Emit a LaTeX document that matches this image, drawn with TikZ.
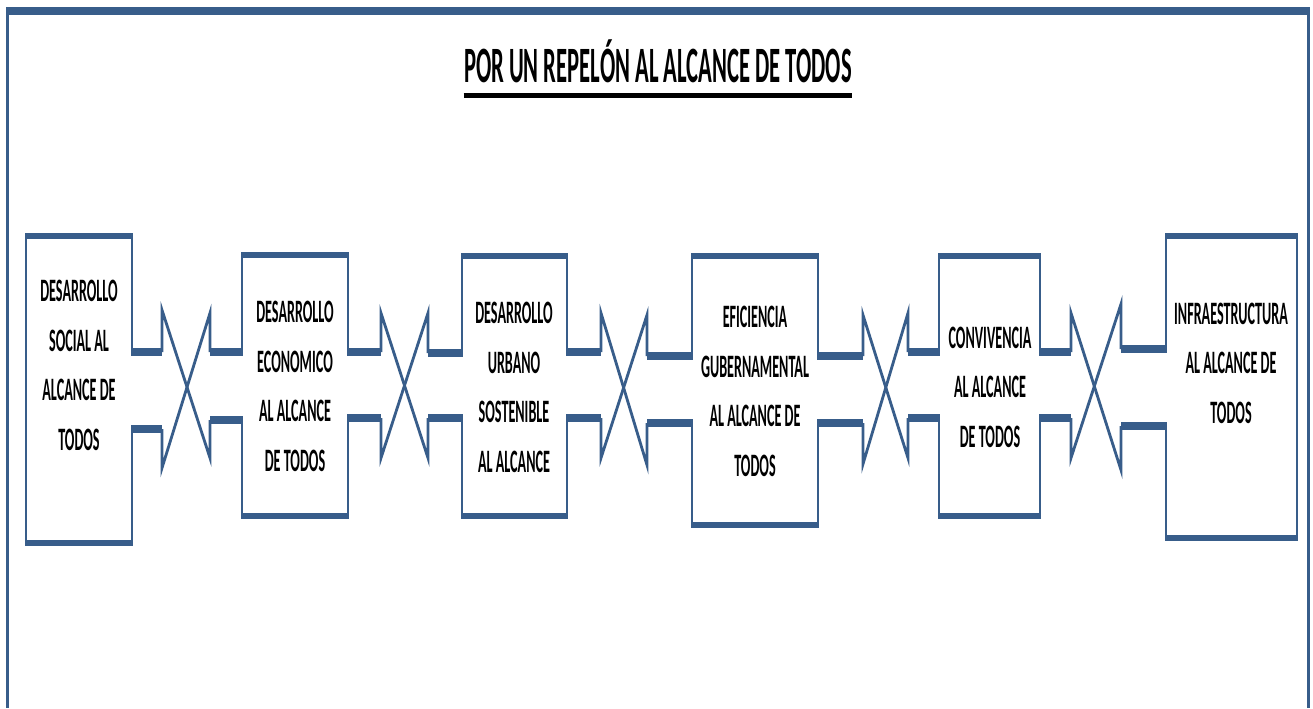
\documentclass[tikz,border=0pt]{standalone}
\usepackage{fontspec}
\setmainfont{Carlito}
\usepackage{graphicx}
\definecolor{outline}{HTML}{385D8A}
\tikzset{frameline/.style = {draw=outline, line width=1.7pt},
         thickbar/.style = {draw=outline, line width=3.6pt},
         stubbar/.style = {draw=outline, line width=4.2pt},
         thinline/.style = {draw=outline, line width=1.6pt, line join=miter},
         boxtext/.style = {inner sep=0pt, font=\bfseries\fontsize{18.6}{28.2}\selectfont},
         titletext/.style = {inner sep=0pt, font=\bfseries\fontsize{29}{34}\selectfont}}
\newcommand{\narrowtext}[1]{\scalebox{0.433}[1]{\begin{tabular}{@{}c@{}}#1\end{tabular}}}

\begin{document}
\begin{tikzpicture}[x=0.02cm,y=-0.02cm]
        \useasboundingbox (0,0) rectangle (1313,708);
        \draw[thickbar, line width=4pt](6,11)--(1310,11);
        \draw[frameline](7.5,9)--(7.5,708);
        \draw[frameline](1308.5,9)--(1308.5,708);

        \node[titletext, anchor=base] (title) at (658,82) {\scalebox{0.444}[1]{POR UN REPELÓN AL ALCANCE DE TODOS}};
        \draw[line width=2.9pt]([yshift=-7.7pt]title.base west)--([yshift=-7.7pt]title.base east);

        % boxes
        \draw[thinline](132,352)--(132,236)--(26,236)--(26,543)--(132,543)--(132,429);
        \draw[thickbar](25,236)--(133,236);
        \draw[thickbar](25,543)--(133,543);

        \draw[thinline](242,352)--(242,255)--(348,255)--(348,352);
        \draw[thinline](242,420)--(242,516)--(348,516)--(348,418);
        \draw[thickbar](241,255)--(349,255);
        \draw[thickbar](241,516)--(349,516);

        \draw[thinline](462,353)--(462,256)--(567,256)--(567,352);
        \draw[thinline](462,418)--(462,516)--(567,516)--(567,418);
        \draw[thickbar](461,256)--(568,256);
        \draw[thickbar](461,516)--(568,516);

        \draw[thinline](692,356)--(692,256)--(818,256)--(818,356);
        \draw[thinline](692,423)--(692,525)--(818,525)--(818,423);
        \draw[thickbar](691,256)--(819,256);
        \draw[thickbar](691,525)--(819,525);

        \draw[thinline](939,352)--(939,256)--(1040,256)--(1040,352);
        \draw[thinline](939,418)--(939,516)--(1040,516)--(1040,418);
        \draw[thickbar](938,256)--(1041,256);
        \draw[thickbar](938,516)--(1041,516);

        \draw[thinline](1166,349)--(1166,236)--(1297,236)--(1297,538)--(1166,538)--(1166,426);
        \draw[thickbar](1165,236)--(1298,236);
        \draw[thickbar](1165,538)--(1298,538);

        % crossings
        \draw[stubbar](131,352)--(162,352);
        \draw[stubbar](131,429)--(162,429);
        \draw[stubbar](210,352)--(243,352);
        \draw[stubbar](210,420)--(243,420);
        \draw[thinline](162,352)--(162,310)--(210,458)--(210,420);
        \draw[thinline](162,429)--(162,468)--(210,313)--(210,352);

        \draw[stubbar](347,352)--(381,352);
        \draw[stubbar](347,418)--(381,418);
        \draw[stubbar](428,353)--(463,353);
        \draw[stubbar](428,418)--(463,418);
        \draw[thinline](381,352)--(381,313)--(428,458)--(428,418);
        \draw[thinline](381,418)--(381,458)--(428,313)--(428,353);

        \draw[stubbar](566,352)--(601,352);
        \draw[stubbar](566,418)--(601,418);
        \draw[stubbar](647,356)--(693,356);
        \draw[stubbar](647,423)--(693,423);
        \draw[thinline](601,352)--(601,313)--(647,465)--(647,423);
        \draw[thinline](601,418)--(601,458)--(647,315)--(647,356);

        \draw[stubbar](817,356)--(863,356);
        \draw[stubbar](817,423)--(863,423);
        \draw[stubbar](908,352)--(940,352);
        \draw[stubbar](908,418)--(940,418);
        \draw[thinline](863,356)--(863,315)--(908,458)--(908,418);
        \draw[thinline](863,423)--(863,464)--(908,313)--(908,352);

        \draw[stubbar](1039,352)--(1071,352);
        \draw[stubbar](1039,418)--(1071,418);
        \draw[stubbar](1121,349)--(1167,349);
        \draw[stubbar](1121,426)--(1167,426);
        \draw[thinline](1071,352)--(1071,313)--(1121,470)--(1121,426);
        \draw[thinline](1071,418)--(1071,458)--(1121,304)--(1121,349);

        \node[boxtext] (social) at (79,366) {\narrowtext{DESARROLLO\\SOCIAL AL\\ALCANCE DE\\TODOS}};
        \node[boxtext] (economico) at (295,387) {\narrowtext{DESARROLLO\\ECONOMICO\\AL ALCANCE\\DE TODOS}};
        \node[boxtext] (urbano) at (514,388) {\narrowtext{DESARROLLO\\URBANO\\SOSTENIBLE\\AL ALCANCE}};
        \node[boxtext] (eficiencia) at (755,392) {\narrowtext{EFICIENCIA\\GUBERNAMENTAL\\AL ALCANCE DE\\TODOS}};
        \node[boxtext] (convivencia) at (990,388) {\narrowtext{CONVIVENCIA\\AL ALCANCE\\DE TODOS}};
        \node[boxtext] (infra) at (1231,364) {\narrowtext{INFRAESTRUCTURA\\AL ALCANCE DE\\TODOS}};
\end{tikzpicture}
\end{document}
